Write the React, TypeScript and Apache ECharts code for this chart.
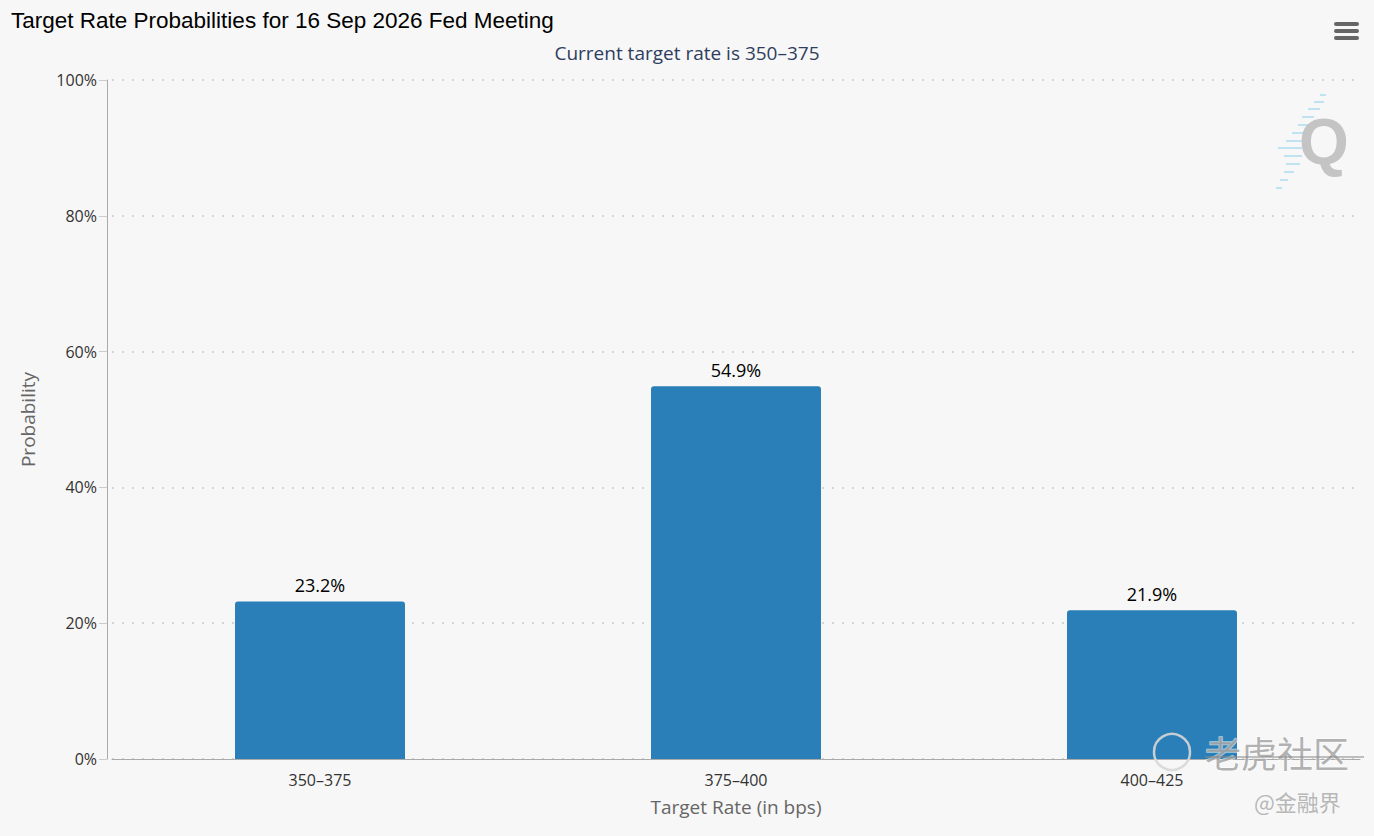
import React, { useEffect, useRef } from "react";
import * as echarts from "echarts";

const categories = ["350–375", "375–400", "400–425"];
const probabilities = [23.2, 54.9, 21.9];
const yTicks = [0, 20, 40, 60, 80, 100];

const titleText = "Target Rate Probabilities for 16 Sep 2026 Fed Meeting";
const subtitleText = "Current target rate is 350–375";

export default function App() {
  const ref = useRef<HTMLDivElement>(null);
  useEffect(() => {
    document.body.style.margin = "0";
    const chart = echarts.init(ref.current!, null, { renderer: "svg" });
    const font = "'Open Sans', 'Noto Sans', sans-serif";
    const qDashes: any[] = [];
    const dashRows = [
      [1320, 94, 6], [1314, 101, 10], [1308, 108, 12], [1302, 116, 12], [1298, 124, 10],
      [1292, 132, 12], [1286, 140, 16], [1278, 147, 24], [1284, 155, 18], [1286, 163, 14],
      [1284, 171, 10], [1280, 179, 8], [1276, 187, 6],
    ];
    dashRows.forEach(([x, y, w]) => {
      qDashes.push({
        type: "rect",
        shape: { x, y, width: w, height: 2 },
        style: { fill: "#bfe3f0" },
        silent: true,
      });
    });
    chart.setOption({
      animation: false,
      backgroundColor: "#f7f7f7",
      title: [
        {
          text: titleText,
          left: 6,
          top: 4,
          textStyle: { fontFamily: "'Liberation Sans', Arial, sans-serif", fontSize: 22.5, fontWeight: "normal", color: "#000" },
        },
        {
          text: subtitleText,
          left: "center",
          top: 38,
          textStyle: { fontFamily: font, fontSize: 19, fontWeight: "normal", color: "#2f3d5e" },
        },
      ],
      grid: { left: 112, right: 14, top: 80, bottom: 77 },
      xAxis: {
        type: "category",
        data: categories,
        name: "Target Rate (in bps)",
        nameLocation: "middle",
        nameGap: 38,
        nameTextStyle: { fontFamily: font, fontSize: 19, color: "#666" },
        axisLine: { lineStyle: { color: "#aaa", width: 1 } },
        axisTick: { alignWithLabel: true, length: 10, lineStyle: { color: "#ccc" } },
        axisLabel: { fontFamily: font, fontSize: 16, color: "#333", margin: 13 },
      },
      yAxis: {
        type: "value",
        min: 0,
        max: 100,
        interval: 20,
        offset: 5,
        name: "Probability",
        nameLocation: "middle",
        nameGap: 70,
        nameTextStyle: { fontFamily: font, fontSize: 19, color: "#666" },
        axisLine: { show: true, lineStyle: { color: "#aaa" } },
        axisTick: { show: true, length: 8, lineStyle: { color: "#ccc" } },
        axisLabel: {
          fontFamily: font,
          fontSize: 16,
          color: "#333",
          margin: 10,
          formatter: (v: number) => (yTicks.includes(v) ? v + "%" : ""),
        },
        splitLine: { lineStyle: { color: "#d4d4d4", type: [2, 8], width: 2 } },
      },
      series: [
        {
          type: "bar",
          data: probabilities,
          barWidth: 170,
          itemStyle: { color: "#2a7fb8", borderRadius: [3, 3, 0, 0] },
          label: {
            show: true,
            position: "top",
            distance: 7,
            fontFamily: font,
            fontSize: 18,
            color: "#000",
            formatter: (p: any) => p.value.toFixed(1) + "%",
          },
        },
      ],
      graphic: [
        { type: "rect", shape: { x: 1334, y: 22, width: 25, height: 4, r: 2 }, style: { fill: "#666" } },
        { type: "rect", shape: { x: 1334, y: 29, width: 25, height: 4, r: 2 }, style: { fill: "#666" } },
        { type: "rect", shape: { x: 1334, y: 36, width: 25, height: 4, r: 2 }, style: { fill: "#666" } },
        ...qDashes,
        {
          type: "text",
          x: 1299,
          y: 110,
          style: { text: "Q", fontFamily: "'Liberation Sans', Arial, sans-serif", fontSize: 64, fontWeight: "bold", fill: "#c4c4c4" },
          silent: true,
        },
        {
          type: "group",
          z: 100,
          silent: true,
          children: [
            {
              type: "circle",
              z: 100,
              shape: { cx: 1172, cy: 752, r: 18 },
              style: { fill: "none", stroke: "rgba(215,215,215,0.9)", lineWidth: 2.5 },
            },
            {
              type: "text",
              z: 100,
              x: 1205,
              y: 734,
              style: {
                text: "老虎社区",
                fontFamily: "'Noto Sans CJK SC', sans-serif",
                fontSize: 36,
                fill: "rgba(165,165,165,0.85)",
                stroke: "rgba(255,255,255,0.6)",
                lineWidth: 1.5,
              },
            },
            {
              type: "line",
              z: 100,
              shape: { x1: 1205, y1: 757, x2: 1364, y2: 757 },
              style: { stroke: "rgba(140,140,140,0.7)", lineWidth: 1.5 },
            },
            {
              type: "text",
              z: 100,
              x: 1254,
              y: 790,
              style: { text: "@金融界", fontFamily: "'Noto Sans CJK SC', sans-serif", fontSize: 22, fill: "rgba(175,175,175,0.9)" },
            },
          ],
        },
      ],
    });
    return () => chart.dispose();
  }, []);
  return <div ref={ref} style={{ position: "fixed", left: 0, top: 0, width: 1374, height: 836 }} />;
}
